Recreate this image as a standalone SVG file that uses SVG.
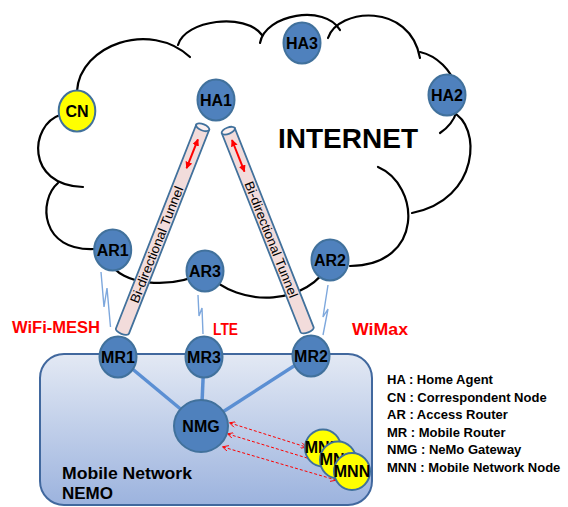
<svg xmlns="http://www.w3.org/2000/svg" width="568" height="507" viewBox="0 0 568 507">
<style>
.cloud{fill:none;stroke:#000;stroke-width:2.2;stroke-linecap:round}
.node ellipse{fill:#4f81bd;stroke:#41719c;stroke-width:2}
.yel ellipse{fill:#ffff00;stroke:#41719c;stroke-width:2}
.lbl{font-family:"Liberation Sans",Arial,sans-serif;font-weight:bold;font-size:16px;text-anchor:middle;fill:#000}
.tube{fill:#f2dcdb;stroke:#41719c;stroke-width:1.8}
.cap{fill:#fbefef;stroke:#41719c;stroke-width:1.8}
.tt{font-family:"Liberation Sans",Arial,sans-serif;font-size:13px;text-anchor:middle;fill:#000}
.bolt{fill:none;stroke:#7ea8dd;stroke-width:1.4;stroke-linejoin:miter}
.link{stroke:#5b8fd3;stroke-width:3.5}
.tarrow{stroke:#ff0000;stroke-width:2;marker-start:url(#bigHead);marker-end:url(#bigHead)}
.darrow{stroke:#ff0000;stroke-width:1;stroke-dasharray:3 2;marker-start:url(#smallHead);marker-end:url(#smallHead)}
.red{font-family:"Liberation Sans",Arial,sans-serif;font-weight:bold;font-size:16px;fill:#ff0000}
.leg{font-family:"Liberation Sans",Arial,sans-serif;font-weight:bold;font-size:13px;fill:#000}
.big{font-family:"Liberation Sans",Arial,sans-serif;font-weight:bold;fill:#000}
</style>
<defs>
<linearGradient id="boxGrad" x1="0" y1="0" x2="0" y2="1">
<stop offset="0" stop-color="#e3e9f4"/>
<stop offset="1" stop-color="#9cb3de"/>
</linearGradient>
<marker id="bigHead" viewBox="0 0 10 10" refX="9" refY="5" markerWidth="7" markerHeight="7" orient="auto-start-reverse" markerUnits="userSpaceOnUse">
<path d="M0,0 L10,5 L0,10 z" fill="#ff0000"/>
</marker>
<marker id="smallHead" viewBox="0 0 10 10" refX="9" refY="5" markerWidth="7" markerHeight="6" orient="auto-start-reverse" markerUnits="userSpaceOnUse">
<path d="M0,0 L10,5 L0,10" fill="none" stroke="#ff0000" stroke-width="1.5"/>
</marker>
</defs>

<g id="nemo-box">
<rect x="40" y="354" width="332" height="151" rx="24" ry="24" fill="url(#boxGrad)" stroke="#41689e" stroke-width="2"/>
<text class="big" x="62" y="479" font-size="17" textLength="130" lengthAdjust="spacingAndGlyphs">Mobile Network</text>
<text class="big" x="62" y="499" font-size="17">NEMO</text>
</g>

<g id="internet-cloud">
<path class="cloud" d="M77,91 C80,45 150,20 190,57"/>
<path class="cloud" d="M178,45 C185,20 245,12 262,35"/>
<path class="cloud" d="M260,43 C265,14 325,4 340,30"/>
<path class="cloud" d="M328,38 C338,8 410,2 420,58"/>
<path class="cloud" d="M420,52 C455,60 475,110 440,133"/>
<path class="cloud" d="M452,112 C482,125 480,200 412,213"/>
<path class="cloud" d="M378,167 C420,185 425,265 350,266"/>
<path class="cloud" d="M330,262 C310,305 240,310 205,272"/>
<path class="cloud" d="M110,262 C120,285 170,290 205,272"/>
<path class="cloud" d="M58,183 C38,200 40,252 95,249"/>
<path class="cloud" d="M60,115 C30,125 25,185 83,187"/>
<text class="big" x="278" y="148" font-size="28">INTERNET</text>
</g>

<g id="connectors">
<g id="tunnel-left" transform="translate(202.7,127.3) rotate(21.5)">
<path class="tube" d="M-7,0 L-7,219 A7,3 0 0 0 7,219 L7,0 Z"/>
<ellipse class="cap" cx="0" cy="0" rx="7" ry="3.2"/>
<line class="tarrow" x1="0" y1="13" x2="0" y2="44"/>
<text class="tt" transform="rotate(-90)" x="-126" y="4.6" textLength="124" lengthAdjust="spacingAndGlyphs">Bi-directional Tunnel</text>
</g>
<g id="tunnel-right" transform="translate(228.3,130.7) rotate(-21.6)">
<path class="tube" d="M-7,0 L-7,214 A7,3 0 0 0 7,214 L7,0 Z"/>
<ellipse class="cap" cx="0" cy="0" rx="7" ry="3.2"/>
<line class="tarrow" x1="0" y1="10" x2="0" y2="44"/>
<text class="tt" transform="rotate(90)" x="117" y="4.6" textLength="124" lengthAdjust="spacingAndGlyphs">Bi-directional Tunnel</text>
</g>
<path class="bolt" d="M101,272 L104,307 L107,288 L110.5,327"/>
<path class="bolt" d="M198,295 L199,316 L202,308 L203,334"/>
<path class="bolt" d="M328,285 L323,317 L328,309 L323,335"/>
<line class="link" x1="118" y1="357" x2="201" y2="426"/>
<line class="link" x1="204" y1="357" x2="201" y2="426"/>
<line class="link" x1="311" y1="355" x2="201" y2="426"/>
<line class="darrow" x1="230" y1="423" x2="306" y2="447"/>
<line class="darrow" x1="228" y1="434" x2="317" y2="461"/>
<line class="darrow" x1="223" y1="447" x2="336" y2="480"/>
</g>

<g id="labels">
<text class="red" x="12" y="333" textLength="88" lengthAdjust="spacingAndGlyphs">WiFi-MESH</text>
<text class="red" x="213" y="335" textLength="25" lengthAdjust="spacingAndGlyphs">LTE</text>
<text class="red" x="352" y="335" textLength="56" lengthAdjust="spacingAndGlyphs">WiMax</text>
</g>

<g id="CN" class="yel"><ellipse cx="77" cy="111" rx="18.3" ry="20.5"/><text class="lbl" x="77" y="117">CN</text></g>
<g id="HA1" class="node"><ellipse cx="216" cy="100" rx="18.5" ry="20.5"/><text class="lbl" x="216" y="106">HA1</text></g>
<g id="HA3" class="node"><ellipse cx="302" cy="43" rx="18.5" ry="20.5"/><text class="lbl" x="302" y="49">HA3</text></g>
<g id="HA2" class="node"><ellipse cx="447" cy="95" rx="18.5" ry="20.5"/><text class="lbl" x="447" y="101">HA2</text></g>
<g id="AR1" class="node"><ellipse cx="112.7" cy="250" rx="18.5" ry="20.5"/><text class="lbl" x="112.7" y="256">AR1</text></g>
<g id="AR3" class="node"><ellipse cx="205" cy="271" rx="18.5" ry="20.5"/><text class="lbl" x="205" y="277">AR3</text></g>
<g id="AR2" class="node"><ellipse cx="330" cy="260" rx="18.5" ry="20.5"/><text class="lbl" x="330" y="266">AR2</text></g>
<g id="MR1" class="node"><ellipse cx="118" cy="357" rx="18.5" ry="20.5"/><text class="lbl" x="118" y="363">MR1</text></g>
<g id="MR3" class="node"><ellipse cx="204" cy="357" rx="18.5" ry="20.5"/><text class="lbl" x="204" y="363">MR3</text></g>
<g id="MR2" class="node"><ellipse cx="311" cy="356" rx="18.5" ry="20.5"/><text class="lbl" x="311" y="362">MR2</text></g>
<g id="NMG" class="node"><ellipse cx="201" cy="426" rx="27" ry="26"/><text class="lbl" x="201" y="432" font-size="18">NMG</text></g>
<g id="MNN1" class="yel"><ellipse cx="323" cy="448" rx="18" ry="18.5"/><text class="lbl" x="323" y="453" font-size="14">MNN</text></g>
<g id="MNN2" class="yel"><ellipse cx="338" cy="460" rx="18" ry="18.5"/><text class="lbl" x="338" y="465" font-size="14">MNN</text></g>
<g id="MNN3" class="yel"><ellipse cx="352" cy="471.5" rx="18" ry="18.5"/><text class="lbl" x="352" y="476.5" font-size="14">MNN</text></g>

<g id="legend">
<text class="leg" x="387" y="384">HA : Home Agent</text>
<text class="leg" x="387" y="401.5">CN : Correspondent Node</text>
<text class="leg" x="387" y="419">AR : Access Router</text>
<text class="leg" x="387" y="436.5">MR : Mobile Router</text>
<text class="leg" x="387" y="454">NMG : NeMo Gateway</text>
<text class="leg" x="387" y="471.5">MNN : Mobile Network Node</text>
</g>
</svg>
